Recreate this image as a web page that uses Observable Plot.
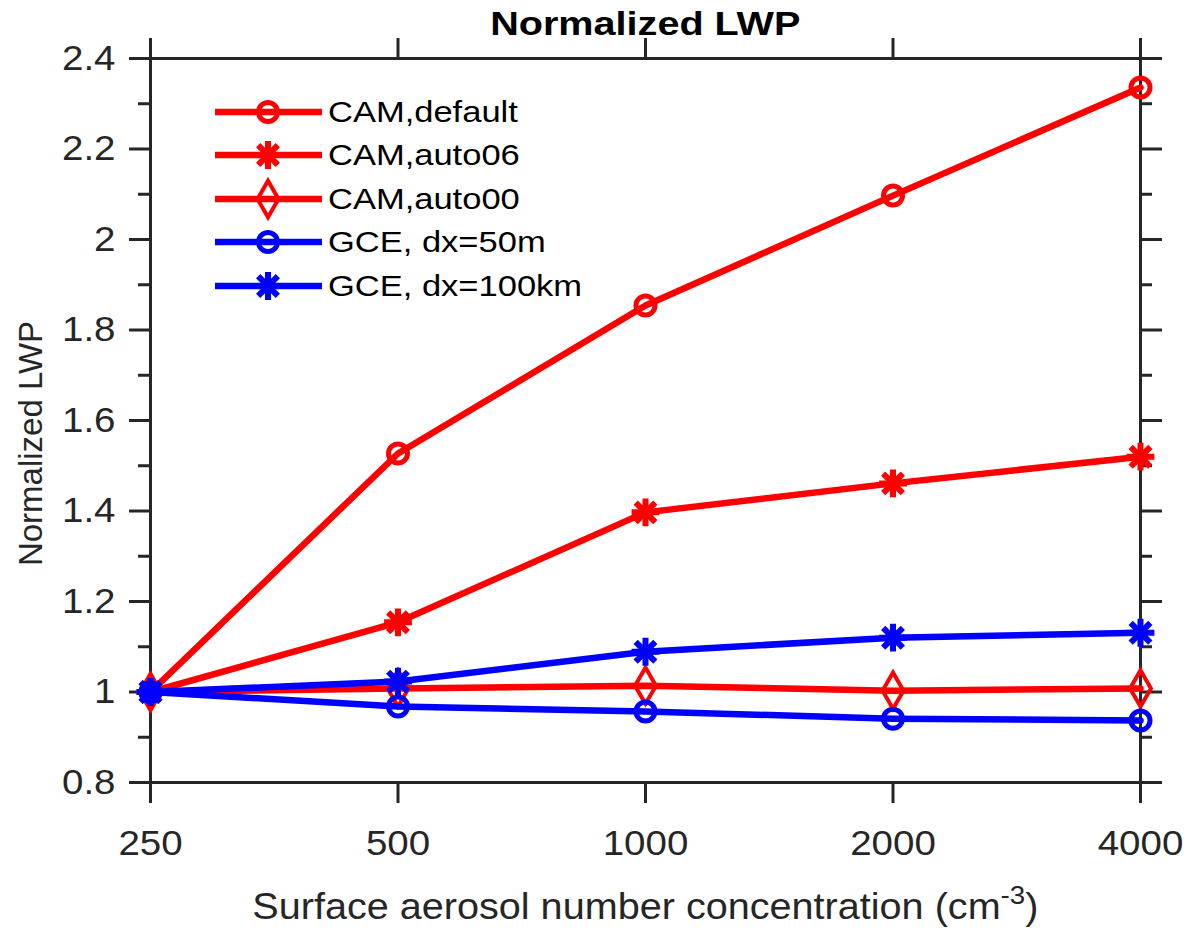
<!DOCTYPE html>
<html>
<head>
<meta charset="utf-8">
<script src="https://cdn.jsdelivr.net/npm/d3@7"></script>
<script src="https://cdn.jsdelivr.net/npm/@observablehq/plot@0.6"></script>
<style>
  body { margin: 0; background: #fff; }
  #wrap { position: relative; width: 1195px; height: 928px; overflow: hidden; font-family: "Liberation Sans", Arial, sans-serif; }
  #wrap svg.plot { position: absolute; left: 0; top: 0; }
  .title { position: absolute; left: 0; width: 1290px; top: 7px; text-align: center; font-weight: bold; font-size: 33px; line-height: 33px; color: #000; }
  .title span { display: inline-block; transform: scaleX(1.2); transform-origin: center; }
  .xlab span { display: inline-block; transform: scaleX(1.1); transform-origin: center; }
  .xlab { position: absolute; left: 0; width: 1290px; top: 889px; text-align: center; font-size: 36px; line-height: 36px; color: #262626; white-space: nowrap; }
  .xlab sup { font-size: 0.7em; vertical-align: 0.6em; line-height: 0; }
  .legend { position: absolute; left: 215px; top: 90px; }
  .legend .row { display: flex; align-items: center; height: 43.5px; }
  .legend .row span { display: inline-block; font-size: 30px; color: #000; margin-left: 6px; transform: scaleX(1.15); transform-origin: left center; white-space: nowrap; }
</style>
</head>
<body>
<div id="wrap">
  <div class="title"><span>Normalized LWP</span></div>
  <div class="xlab"><span>Surface aerosol number concentration (cm<sup>-3</sup>)</span></div>
  <div class="legend" id="legend"></div>
</div>
<script>
// ---- data ----
const concentrations = [250, 500, 1000, 2000, 4000];
const camDefault = [1.000, 1.527, 1.854, 2.097, 2.336];
const camAuto06  = [1.000, 1.154, 1.397, 1.461, 1.520];
const camAuto00  = [1.000, 1.008, 1.014, 1.003, 1.008];
const gce50m     = [1.000, 0.968, 0.957, 0.941, 0.937];
const gce100km   = [1.000, 1.023, 1.089, 1.120, 1.131];
const seriesNames   = ["CAM,default", "CAM,auto06", "CAM,auto00", "GCE, dx=50m", "GCE, dx=100km"];
const seriesValues  = [camDefault, camAuto06, camAuto00, gce50m, gce100km];
const seriesColors  = ["#ff0000", "#ff0000", "#ff0000", "#0000ff", "#0000ff"];
const seriesMarkers = ["circle", "asterisk", "diamond", "circle", "asterisk"];
const yMajorTicks = [0.8, 1.0, 1.2, 1.4, 1.6, 1.8, 2.0, 2.2, 2.4];
const yMinorTicks = [0.9, 1.1, 1.3, 1.5, 1.7, 1.9, 2.1, 2.3];
const xTicks = [250, 500, 1000, 2000, 4000];

// ---- build table ----
const rows = [];
seriesNames.forEach((name, i) => {
  concentrations.forEach((c, j) => rows.push({series: name, x: c, y: seriesValues[i][j], idx: i}));
});

const axisColor = "#262626";
const LW = 6.5;
const marks = [];
seriesNames.forEach((name, i) => {
  const d = rows.filter(r => r.idx === i);
  const color = seriesColors[i];
  marks.push(Plot.line(d, {x: "x", y: "y", stroke: color, strokeWidth: LW, strokeLinejoin: "round"}));
  const m = seriesMarkers[i];
  if (m === "circle") {
    marks.push(Plot.dot(d, {x: "x", y: "y", symbol: "circle", r: 9.5, stroke: color, fill: "none", strokeWidth: 5}));
  } else if (m === "diamond") {
    marks.push(Plot.dot(d, {x: "x", y: "y", symbol: "diamond", r: 11, stroke: color, fill: "none", strokeWidth: 4}));
  } else {
    marks.push(Plot.dot(d, {x: "x", y: "y", symbol: "plus", r: 9, stroke: color, strokeWidth: 6}));
    marks.push(Plot.dot(d, {x: "x", y: "y", symbol: "times", r: 9, stroke: color, strokeWidth: 6}));
  }
});

const chart = Plot.plot({
  width: 1195,
  height: 928,
  marginLeft: 150,
  marginRight: 55,
  marginTop: 58,
  marginBottom: 146,
  style: {fontFamily: "'Liberation Sans', Arial, sans-serif", background: "white", overflow: "visible"},
  x: {type: "log", domain: [250, 4000]},
  y: {domain: [0.8, 2.4]},
  marks: [
    Plot.frame({stroke: axisColor, strokeWidth: 3}),
    Plot.axisX({anchor: "bottom", ticks: xTicks, tickSize: 21, tickPadding: 27, tickFormat: d3.format("d"), fontSize: 35, color: axisColor, strokeWidth: 3, label: null}),
    Plot.axisX({anchor: "top", ticks: xTicks, tickSize: 21, tickFormat: () => "", color: axisColor, strokeWidth: 3, label: null}),
    Plot.axisY({anchor: "left", ticks: yMajorTicks, tickSize: 21, tickPadding: 14, tickFormat: d3.format("~g"), fontSize: 35, color: axisColor, strokeWidth: 3, label: null}),
    Plot.axisY({anchor: "left", ticks: yMinorTicks, tickSize: 12, tickFormat: () => "", color: axisColor, strokeWidth: 3, label: null}),
    Plot.axisY({anchor: "right", ticks: yMajorTicks, tickSize: 21, tickFormat: () => "", color: axisColor, strokeWidth: 3, label: null}),
    Plot.axisY({anchor: "right", ticks: yMinorTicks, tickSize: 11, tickFormat: () => "", color: axisColor, strokeWidth: 3, label: null}),
    Plot.text(["Normalized LWP"], {frameAnchor: "left", textAnchor: "middle", dx: -119, dy: 23, rotate: -90, fontSize: 33, fill: axisColor}),
    ...marks
  ]
});
chart.classList.add("plot");
document.getElementById("wrap").prepend(chart);

// stretch horizontal tick labels slightly to match the reference's wide glyphs
chart.querySelectorAll('g[aria-label$="tick label"] text').forEach(t => {
  if (!t.textContent) return;
  const len = t.getComputedTextLength();
  t.setAttribute("textLength", len * 1.1);
  t.setAttribute("lengthAdjust", "spacingAndGlyphs");
});

// ---- legend ----
const legend = d3.select("#legend");
seriesNames.forEach((name, i) => {
  const row = legend.append("div").attr("class", "row");
  const svg = row.append("svg").attr("width", 107).attr("height", 44).style("overflow", "visible");
  const color = seriesColors[i];
  svg.append("line").attr("x1", 0).attr("x2", 107).attr("y1", 22).attr("y2", 22)
    .attr("stroke", color).attr("stroke-width", LW);
  const g = svg.append("g").attr("transform", "translate(53,22)").attr("fill", "none").attr("stroke", color);
  const m = seriesMarkers[i];
  if (m === "circle") {
    g.append("path").attr("d", d3.symbol(d3.symbolCircle, Math.PI * 9.5 * 9.5)()).attr("stroke-width", 5);
  } else if (m === "diamond") {
    g.append("path").attr("d", d3.symbol(d3.symbolDiamond, Math.PI * 11 * 11)()).attr("stroke-width", 4);
  } else {
    g.append("path").attr("d", d3.symbol(d3.symbolPlus, Math.PI * 9 * 9)()).attr("stroke-width", 6);
    g.append("path").attr("d", d3.symbol(d3.symbolTimes, Math.PI * 9 * 9)()).attr("stroke-width", 6);
  }
  row.append("span").text(name);
});
</script>
</body>
</html>
